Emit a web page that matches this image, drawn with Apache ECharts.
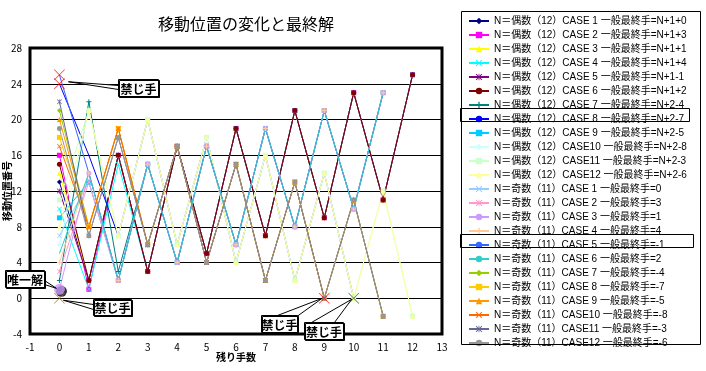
<!DOCTYPE html>
<html><head><meta charset="utf-8">
<script src="https://cdn.jsdelivr.net/npm/echarts@6/dist/echarts.min.js"></script>
<style>html,body{margin:0;padding:0;background:#fff}#c{width:706px;height:371px}</style>
</head><body><div id="c"></div>
<script>
// ---- data ----
const xTicks = [-1,0,1,2,3,4,5,6,7,8,9,10,11,12,13];
const yTicks = [-4,0,4,8,12,16,20,24,28];
// even N=12 cases (value by remaining moves 0,1,2,...)
const e1  = [13,2,16,3,17,5,19,7,21,9,23,11,25];
const e2  = [16,1,16,3,17,5,19,7,21,9,23,11,25];
const e3  = [14,2,16,3,17,5,19,7,21,9,23,11,25];
const e4  = [10,1,15,3,17,5,19,7,21,9,23,11,25];
const e5  = [12,2,16,3,17,5,19,7,21,9,23,11,25];
const e6  = [15,2,16,3,17,5,19,7,21,9,23,11,25];
const e7  = [2,22,3,15,4,17,6,19,8,21,10,23];
const e8  = [24,16,7,20,6,18,4,16,2,14,0];
const e9  = [9,13,2,15,4,17,6,19,8,21,10,23];
const e10 = [6,21,7,20,6,18,4,16,2,14,0];
const e11 = [11,21,7,20,6,18,4,16,2,14,0,12,-2];
const e12 = [8,21,7,20,6,18,4,16,2,14,0,12,-2];
// odd N=11 cases
const o1  = [7,13,2,15,4,17,6,19,8,21,10,23];
const o2  = [3,13,2,15,4,17,6,19,8,21,10,23];
const o3  = [1,14,2,15,4,17,6,19,8,21,10,23];
const o4  = [4,14,2,15,4,17,6,19,8,21,10,23];
const o5  = [25,14,2,15,4,17,6,19,8,21,10,23];
const o6  = [5,14,2,15,4,17,6,19,8,21,10,23];
const o7  = [21,8,19,6,17,4,15,2,13,0,11,-2];
const o8  = [18,8,19,6,17,4,15,2,13,0,11,-2];
const o9  = [20,8,19,6,17,4,15,2,13,0,11,-2];
const o10 = [17,8,19,6,17,4,15,2,13,0];
const o11 = [22,7,18,6,17,4,15,2,13,0,11,-2];
const o12 = [19,7,18,6,17,4,15,2,13,0,11,-2];
const evenSeries = [e1,e2,e3,e4,e5,e6,e7,e8,e9,e10,e11,e12];
const oddSeries  = [o1,o2,o3,o4,o5,o6,o7,o8,o9,o10,o11,o12];
const evenFinal = ['N+1+0','N+1+3','N+1+1','N+1+4','N+1-1','N+1+2','N+2-4','N+2-7','N+2-5','N+2-8','N+2-3','N+2-6'];
const oddFinal  = ['0','3','1','4','-1','2','-4','-7','-5','-8','-3','-6'];
const caseNames = ['CASE 1','CASE 2','CASE 3','CASE 4','CASE 5','CASE 6','CASE 7','CASE 8','CASE 9','CASE10','CASE11','CASE12'];
const forbiddenPts = [[0,25],[0,24],[9,0],[10,0],[0,0]];
const uniquePt = [[0,1]];
const titleText = '移動位置の変化と最終解';
const yName = '移動位置番号';
const xName = '残り手数';

// ---- styles ----
const colors = ['#000080','#FF00FF','#FFFF00','#00FFFF','#800080','#800000','#008080','#0000FF','#00CCFF','#CCFFFF','#CCFFCC','#FFFF99',
                '#99CCFF','#FF99CC','#CC99FF','#FFCC99','#3366FF','#33CCCC','#99CC00','#FFCC00','#FF9900','#FF6600','#666699','#969696'];
const X = 'path://M0,1L1,0L5,4L9,0L10,1L6,5L10,9L9,10L5,6L1,10L0,9L4,5Z';
const XT = 'path://M0,0.5L0.5,0L5,4.5L9.5,0L10,0.5L5.5,5L10,9.5L9.5,10L5,5.5L0.5,10L0,9.5L4.5,5Z';
const PLUS = 'path://M4,0H6V4H10V6H6V10H4V6H0V4H4Z';
const STAR = 'path://M0,1L1,0L4.4,3.4V0H5.6V3.4L9,0L10,1L6,5L10,9L9,10L5.6,6.6V10H4.4V6.6L1,10L0,9L4,5Z';
const DASH = 'path://M0,4H10V6H0Z';
const symbols = ['diamond','rect','triangle',X,STAR,'circle',PLUS,'none',DASH,'diamond','rect','triangle',
                 X,STAR,'circle',PLUS,'none','none','diamond','rect','triangle',X,STAR,'circle'];
const FONT = '"Noto Sans CJK JP", sans-serif';
const LFONT = '"Liberation Sans", "Noto Sans CJK JP", sans-serif';

const names = [];
const series = [];
const all = evenSeries.concat(oddSeries);
all.forEach((arr, k) => {
  const even = k < 12, j = k % 12;
  const nm = even ? ('N＝偶数（12）' + caseNames[j] + ' 一般最終手=' + evenFinal[j])
                  : ('N＝奇数（11）' + caseNames[j] + ' 一般最終手=' + oddFinal[j]);
  names.push(nm);
  series.push({
    name: nm, type: 'line', data: arr.map((v, i) => [i, v]),
    symbol: symbols[k], symbolSize: 5, showSymbol: true,
    lineStyle: { width: 1, color: colors[k] },
    itemStyle: { color: colors[k] },
    emphasis: { disabled: true }, animation: false, z: 3
  });
});
series.push({ type: 'scatter', data: uniquePt, symbol: 'circle', symbolSize: 11,
  itemStyle: { color: '#CC99FF', shadowColor: '#000', shadowOffsetX: 2, shadowOffsetY: 2, shadowBlur: 0 }, z: 5, animation: false });
series.push({ type: 'scatter', data: forbiddenPts, symbol: XT, symbolSize: 11,
  itemStyle: { color: (p) => ['#FF0000','#FF0000','#FF0000','#1F5F1F','#B07000'][p.dataIndex] }, z: 6, animation: false });

const chart = echarts.init(document.getElementById('c'), null, { renderer: 'canvas' });
chart.setOption({
  backgroundColor: '#FFFFFF',
  animation: false,
  title: { text: titleText, left: 153, top: 11, textStyle: { fontSize: 16, fontWeight: 'normal', color: '#000', fontFamily: FONT } },
  grid: { left: 30, right: 264, top: 48, bottom: 37, containLabel: false, outerBoundsMode: 'none',
    show: true, borderColor: '#000', borderWidth: 3, backgroundColor: 'transparent' },
  xAxis: { type: 'value', min: xTicks[0], max: xTicks[xTicks.length - 1], interval: 1,
    name: xName, nameLocation: 'middle', nameGap: 18, nameMoveOverlap: false,
    nameTextStyle: { fontSize: 10, color: '#000', fontFamily: FONT, fontWeight: 'bold' },
    axisLine: { show: false }, axisTick: { show: false }, splitLine: { show: false },
    axisLabel: { fontSize: 10, color: '#000', margin: 8, fontFamily: FONT } },
  yAxis: { type: 'value', min: yTicks[0], max: yTicks[yTicks.length - 1], interval: 4,
    name: yName, nameLocation: 'middle', nameGap: 18, nameRotate: 90, nameMoveOverlap: false,
    nameTextStyle: { fontSize: 10, color: '#000', fontFamily: FONT, fontWeight: 'bold' },
    axisLine: { show: false }, axisTick: { show: false },
    splitLine: { show: true, lineStyle: { color: '#000', width: 1 } },
    axisLabel: { fontSize: 10, color: '#000', margin: 8, fontFamily: FONT } },
  legend: { orient: 'vertical', left: 463, top: 10, itemWidth: 20, itemHeight: 8, itemGap: 2,
    data: names, selectedMode: false,
    textStyle: { fontSize: 10, lineHeight: 12, color: '#000', fontFamily: LFONT } },
  series: series
});

// annotations (callouts) anchored to data coordinates
function px(pt) { return chart.convertToPixel({ gridIndex: 0 }, pt); }
const callouts = [
  { pt: [0,24], text: '禁じ手', box: [59,-5,40,17], tip: [9,-2], base: [[0,6],[0,10]] },
  { pt: [0,1],  text: '唯一解', box: [-54,-19,39,17], tip: [-3,-1], base: [[39,10],[39,14]] },
  { pt: [0,0],  text: '禁じ手', box: [34,1,38,16], tip: [4,2], base: [[0,5],[0,10]] },
  { pt: [9,0],  text: '禁じ手', box: [-63,17,36,17], tip: [-2,0], base: [[16,0],[34,2]] },
  { pt: [10,0], text: '禁じ手', box: [-50,24,39,17], tip: [-2,1], base: [[7,0],[27,4]] }
];
const g = [];
callouts.forEach(c => {
  const p = px(c.pt);
  const bx = Math.round(p[0] + c.box[0]) + 0.5, by = Math.round(p[1] + c.box[1]) + 0.5;
  const tip = [p[0] + c.tip[0], p[1] + c.tip[1]];
  g.push({ type: 'polygon', z: 100, shape: { points: [tip, [bx + c.base[0][0], by + c.base[0][1]], [bx + c.base[1][0], by + c.base[1][1]]] },
    style: { fill: '#fff', stroke: '#000', lineWidth: 1 } });
  g.push({ type: 'rect', z: 101, shape: { x: bx, y: by, width: c.box[2], height: c.box[3] },
    style: { fill: '#fff', stroke: '#000', lineWidth: 1, shadowColor: '#000', shadowOffsetX: 1, shadowOffsetY: 1 } });
  g.push({ type: 'text', z: 102, style: { text: c.text, x: bx + c.box[2] / 2, y: by + c.box[3] / 2 + 1, align: 'center', verticalAlign: 'middle',
    font: 'bold 12px ' + FONT, fill: '#000' } });
});
// legend frame and highlighted entries
g.push({ type: 'rect', z: 50, shape: { x: 461.5, y: 11.5, width: 239, height: 333 }, style: { fill: 'none', stroke: '#000', lineWidth: 1 } });
g.push({ type: 'rect', z: 50, shape: { x: 460.5, y: 10 + 7 * 14 + 0.5, width: 229, height: 13 }, style: { fill: 'none', stroke: '#000', lineWidth: 1 } });
g.push({ type: 'rect', z: 50, shape: { x: 460.5, y: 10 + 16 * 14 + 0.5, width: 233, height: 13 }, style: { fill: 'none', stroke: '#000', lineWidth: 1 } });
chart.setOption({ graphic: g });
</script></body></html>
